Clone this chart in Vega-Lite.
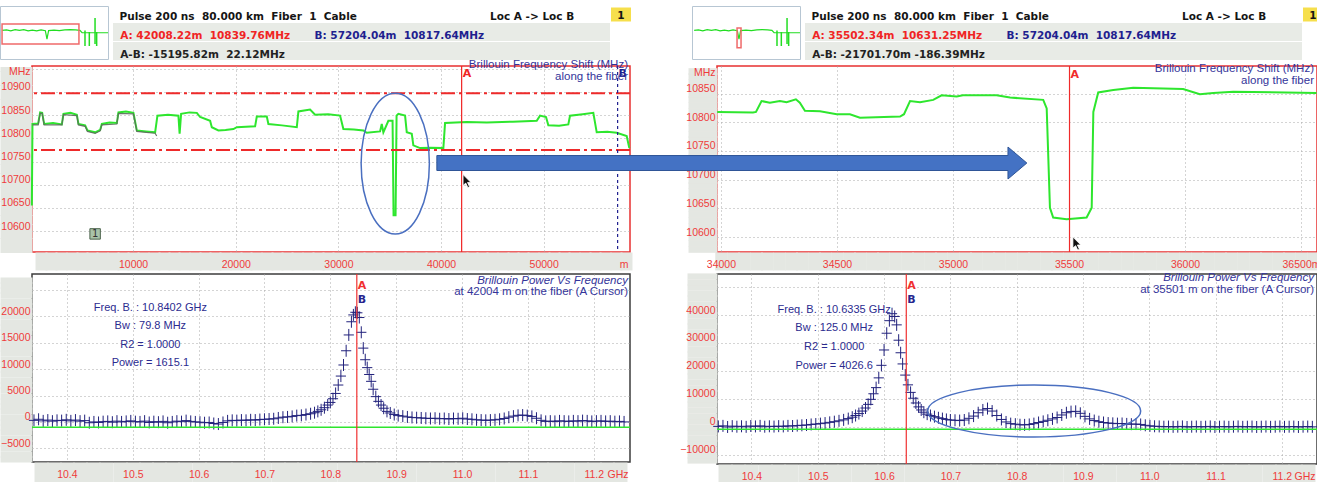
{
"$schema": "https://vega.github.io/schema/vega-lite/v6.json",
"background": "white",
"padding": {"left": -4, "top": 5, "right": 0, "bottom": 0},
"config": {"view": {"stroke": null}, "font": "Liberation Sans"},
"datasets": {
"shiftL": [
{"dist":136,"mhz":10655},{"dist":195,"mhz":10831},{"dist":750,"mhz":10832},{"dist":945,"mhz":10856},{"dist":1140,"mhz":10855},{"dist":1334,"mhz":10831},{"dist":2200,"mhz":10833},{"dist":3058,"mhz":10830},{"dist":3214,"mhz":10853},{"dist":3900,"mhz":10855},{"dist":4519,"mhz":10851},{"dist":4675,"mhz":10831},{"dist":5328,"mhz":10828},{"dist":5552,"mhz":10817},{"dist":6302,"mhz":10813},{"dist":6789,"mhz":10818},{"dist":6954,"mhz":10831},{"dist":7700,"mhz":10834},{"dist":8415,"mhz":10833},{"dist":8571,"mhz":10856},{"dist":9300,"mhz":10858},{"dist":10032,"mhz":10855},{"dist":10363,"mhz":10817},{"dist":11269,"mhz":10815},{"dist":12146,"mhz":10813},{"dist":12370,"mhz":10849},{"dist":13400,"mhz":10851},{"dist":14415,"mhz":10849},{"dist":14532,"mhz":10810},{"dist":14678,"mhz":10853},{"dist":15500,"mhz":10856},{"dist":16207,"mhz":10855},{"dist":16529,"mhz":10846},{"dist":17503,"mhz":10838},{"dist":17668,"mhz":10824},{"dist":18311,"mhz":10817},{"dist":19000,"mhz":10818},{"dist":19772,"mhz":10820},{"dist":20103,"mhz":10824},{"dist":21000,"mhz":10825},{"dist":21886,"mhz":10826},{"dist":22051,"mhz":10847},{"dist":23025,"mhz":10847},{"dist":23181,"mhz":10831},{"dist":24500,"mhz":10828},{"dist":25947,"mhz":10824},{"dist":26103,"mhz":10858},{"dist":27243,"mhz":10862},{"dist":27730,"mhz":10851},{"dist":29000,"mhz":10852},{"dist":30165,"mhz":10849},{"dist":30486,"mhz":10820},{"dist":31500,"mhz":10819},{"dist":32434,"mhz":10817},{"dist":32765,"mhz":10812},{"dist":34060,"mhz":10815},{"dist":34226,"mhz":10831},{"dist":34382,"mhz":10813},{"dist":34869,"mhz":10838},{"dist":35278,"mhz":10838},{"dist":35375,"mhz":10634},{"dist":35570,"mhz":10634},{"dist":35668,"mhz":10849},{"dist":35843,"mhz":10853},{"dist":36496,"mhz":10849},{"dist":36661,"mhz":10813},{"dist":37148,"mhz":10810},{"dist":37304,"mhz":10785},{"dist":37957,"mhz":10779},{"dist":39000,"mhz":10780},{"dist":40226,"mhz":10779},{"dist":40392,"mhz":10833},{"dist":42500,"mhz":10835},{"dist":44453,"mhz":10834},{"dist":47000,"mhz":10836},{"dist":49323,"mhz":10838},{"dist":49645,"mhz":10849},{"dist":50229,"mhz":10846},{"dist":50453,"mhz":10828},{"dist":51500,"mhz":10827},{"dist":52401,"mhz":10830},{"dist":52567,"mhz":10849},{"dist":53800,"mhz":10852},{"dist":54836,"mhz":10855},{"dist":55168,"mhz":10813},{"dist":56200,"mhz":10814},{"dist":57115,"mhz":10812},{"dist":58089,"mhz":10805},{"dist":58342,"mhz":10779}
],
"shiftLref": [
{"dist":195,"mhz":10829},{"dist":750,"mhz":10829},{"dist":945,"mhz":10854},{"dist":1140,"mhz":10854},{"dist":1334,"mhz":10829},{"dist":3058,"mhz":10829},{"dist":3214,"mhz":10851},{"dist":4519,"mhz":10849},{"dist":4675,"mhz":10829},{"dist":5328,"mhz":10826},{"dist":5552,"mhz":10815},{"dist":6302,"mhz":10811},{"dist":6789,"mhz":10816},{"dist":6954,"mhz":10829},{"dist":8415,"mhz":10831},{"dist":8571,"mhz":10854},{"dist":10032,"mhz":10853},{"dist":10363,"mhz":10815},{"dist":11269,"mhz":10813},{"dist":12146,"mhz":10811},{"dist":12300,"mhz":10805}
],
"shiftR": [
{"dist":33984,"mhz":10818},{"dist":34138,"mhz":10817},{"dist":34151,"mhz":10818},{"dist":34175,"mhz":10837},{"dist":34211,"mhz":10834},{"dist":34254,"mhz":10837},{"dist":34283,"mhz":10835},{"dist":34323,"mhz":10840},{"dist":34340,"mhz":10834},{"dist":34362,"mhz":10820},{"dist":34427,"mhz":10819},{"dist":34499,"mhz":10814},{"dist":34556,"mhz":10814},{"dist":34599,"mhz":10808},{"dist":34772,"mhz":10810},{"dist":34789,"mhz":10814},{"dist":34815,"mhz":10837},{"dist":34858,"mhz":10835},{"dist":34915,"mhz":10839},{"dist":34951,"mhz":10847},{"dist":35016,"mhz":10845},{"dist":35043,"mhz":10847},{"dist":35188,"mhz":10847},{"dist":35246,"mhz":10843},{"dist":35389,"mhz":10839},{"dist":35404,"mhz":10824},{"dist":35418,"mhz":10651},{"dist":35432,"mhz":10634},{"dist":35490,"mhz":10631},{"dist":35576,"mhz":10634},{"dist":35598,"mhz":10651},{"dist":35605,"mhz":10818},{"dist":35626,"mhz":10852},{"dist":35691,"mhz":10856},{"dist":35777,"mhz":10860},{"dist":35992,"mhz":10858},{"dist":36064,"mhz":10849},{"dist":36122,"mhz":10851},{"dist":36208,"mhz":10853},{"dist":36567,"mhz":10851}
],
"limitsL": [{"limit":"high","mhz":10897},{"limit":"low","mhz":10775}],
"cursorsL": [{"cursor":"A","dist":42008.22},{"cursor":"B","dist":57204.04}],
"cursorR": [{"cursor":"A","dist":35502.34}],
"eventsL": [{"id":"1","dist":6300,"mhz":10594}],
"powL": [
{"f":10.350,"p":300},{"f":10.357,"p":500},{"f":10.364,"p":200},{"f":10.371,"p":350},{"f":10.378,"p":150},{"f":10.385,"p":300},{"f":10.392,"p":250},{"f":10.399,"p":400},{"f":10.406,"p":200},{"f":10.413,"p":350},{"f":10.420,"p":150},{"f":10.427,"p":250},{"f":10.434,"p":-150},{"f":10.441,"p":0},{"f":10.448,"p":-100},{"f":10.455,"p":50},{"f":10.462,"p":100},{"f":10.469,"p":-50},{"f":10.476,"p":150},{"f":10.483,"p":0},{"f":10.490,"p":100},{"f":10.497,"p":200},{"f":10.504,"p":50},{"f":10.511,"p":0},{"f":10.518,"p":150},{"f":10.525,"p":-100},{"f":10.532,"p":50},{"f":10.539,"p":-50},{"f":10.546,"p":100},{"f":10.553,"p":-150},{"f":10.560,"p":0},{"f":10.567,"p":150},{"f":10.574,"p":50},{"f":10.581,"p":250},{"f":10.588,"p":100},{"f":10.595,"p":0},{"f":10.602,"p":-50},{"f":10.609,"p":-150},{"f":10.616,"p":-100},{"f":10.623,"p":-300},{"f":10.630,"p":-400},{"f":10.637,"p":-100},{"f":10.644,"p":200},{"f":10.651,"p":300},{"f":10.658,"p":250},{"f":10.665,"p":350},{"f":10.672,"p":300},{"f":10.679,"p":400},{"f":10.686,"p":350},{"f":10.693,"p":450},{"f":10.700,"p":500},{"f":10.707,"p":550},{"f":10.714,"p":600},{"f":10.721,"p":750},{"f":10.728,"p":900},{"f":10.735,"p":950},{"f":10.742,"p":1050},{"f":10.749,"p":1200},{"f":10.756,"p":1250},{"f":10.763,"p":1400},{"f":10.770,"p":1550},{"f":10.776,"p":1750},{"f":10.781,"p":2000},{"f":10.786,"p":2300},{"f":10.791,"p":2700},{"f":10.796,"p":3200},{"f":10.800,"p":3700},{"f":10.804,"p":4400},{"f":10.808,"p":5400},{"f":10.812,"p":7000},{"f":10.816,"p":8700},{"f":10.820,"p":10800},{"f":10.824,"p":13500},{"f":10.828,"p":16500},{"f":10.832,"p":19000},{"f":10.835,"p":20300},{"f":10.838,"p":20800},{"f":10.841,"p":20700},{"f":10.844,"p":19800},{"f":10.847,"p":17000},{"f":10.850,"p":14000},{"f":10.853,"p":11800},{"f":10.856,"p":10300},{"f":10.859,"p":9000},{"f":10.862,"p":7700},{"f":10.865,"p":6200},{"f":10.869,"p":4800},{"f":10.873,"p":3900},{"f":10.877,"p":3200},{"f":10.881,"p":2600},{"f":10.886,"p":2000},{"f":10.891,"p":1700},{"f":10.897,"p":1400},{"f":10.903,"p":1200},{"f":10.910,"p":1100},{"f":10.917,"p":950},{"f":10.924,"p":850},{"f":10.931,"p":800},{"f":10.938,"p":750},{"f":10.945,"p":700},{"f":10.952,"p":650},{"f":10.959,"p":700},{"f":10.966,"p":600},{"f":10.973,"p":650},{"f":10.980,"p":550},{"f":10.987,"p":650},{"f":10.994,"p":600},{"f":11.001,"p":700},{"f":11.008,"p":550},{"f":11.015,"p":500},{"f":11.022,"p":400},{"f":11.029,"p":350},{"f":11.036,"p":300},{"f":11.043,"p":350},{"f":11.050,"p":400},{"f":11.057,"p":500},{"f":11.064,"p":650},{"f":11.071,"p":900},{"f":11.078,"p":1100},{"f":11.085,"p":1250},{"f":11.092,"p":1300},{"f":11.099,"p":1200},{"f":11.106,"p":1050},{"f":11.113,"p":700},{"f":11.120,"p":300},{"f":11.127,"p":100},{"f":11.134,"p":150},{"f":11.141,"p":100},{"f":11.148,"p":200},{"f":11.155,"p":150},{"f":11.162,"p":100},{"f":11.169,"p":200},{"f":11.176,"p":150},{"f":11.183,"p":250},{"f":11.190,"p":200},{"f":11.197,"p":100},{"f":11.204,"p":150},{"f":11.211,"p":200},{"f":11.218,"p":100},{"f":11.225,"p":150},{"f":11.232,"p":50},{"f":11.239,"p":100},{"f":11.246,"p":0}
],
"powR": [
{"f":10.350,"p":100},{"f":10.357,"p":300},{"f":10.364,"p":-100},{"f":10.371,"p":200},{"f":10.378,"p":0},{"f":10.385,"p":150},{"f":10.392,"p":-50},{"f":10.399,"p":250},{"f":10.406,"p":100},{"f":10.413,"p":300},{"f":10.420,"p":0},{"f":10.427,"p":150},{"f":10.434,"p":50},{"f":10.441,"p":200},{"f":10.448,"p":100},{"f":10.455,"p":300},{"f":10.462,"p":250},{"f":10.469,"p":400},{"f":10.476,"p":500},{"f":10.483,"p":600},{"f":10.490,"p":800},{"f":10.497,"p":950},{"f":10.504,"p":1100},{"f":10.511,"p":1300},{"f":10.518,"p":1550},{"f":10.525,"p":1800},{"f":10.532,"p":2100},{"f":10.539,"p":2450},{"f":10.546,"p":2900},{"f":10.552,"p":3400},{"f":10.557,"p":4000},{"f":10.562,"p":4700},{"f":10.567,"p":5600},{"f":10.572,"p":6700},{"f":10.576,"p":8000},{"f":10.580,"p":9800},{"f":10.584,"p":11800},{"f":10.588,"p":14000},{"f":10.592,"p":17500},{"f":10.596,"p":22000},{"f":10.600,"p":27500},{"f":10.604,"p":33500},{"f":10.608,"p":38000},{"f":10.612,"p":40500},{"f":10.616,"p":39500},{"f":10.619,"p":36500},{"f":10.622,"p":31000},{"f":10.625,"p":26500},{"f":10.628,"p":22500},{"f":10.632,"p":18500},{"f":10.636,"p":15000},{"f":10.640,"p":12300},{"f":10.644,"p":10200},{"f":10.648,"p":8500},{"f":10.652,"p":7100},{"f":10.656,"p":6000},{"f":10.660,"p":5200},{"f":10.665,"p":4500},{"f":10.670,"p":4000},{"f":10.676,"p":3600},{"f":10.682,"p":3200},{"f":10.688,"p":2900},{"f":10.694,"p":2600},{"f":10.700,"p":2400},{"f":10.707,"p":2300},{"f":10.714,"p":2200},{"f":10.721,"p":2400},{"f":10.728,"p":3000},{"f":10.735,"p":3800},{"f":10.742,"p":5000},{"f":10.749,"p":6000},{"f":10.756,"p":6500},{"f":10.763,"p":5600},{"f":10.770,"p":4000},{"f":10.777,"p":2600},{"f":10.784,"p":1700},{"f":10.791,"p":1100},{"f":10.798,"p":900},{"f":10.805,"p":700},{"f":10.812,"p":650},{"f":10.819,"p":800},{"f":10.826,"p":1100},{"f":10.833,"p":1500},{"f":10.840,"p":1900},{"f":10.847,"p":2300},{"f":10.854,"p":2800},{"f":10.861,"p":3300},{"f":10.868,"p":4200},{"f":10.875,"p":5000},{"f":10.882,"p":5400},{"f":10.889,"p":5500},{"f":10.896,"p":4800},{"f":10.903,"p":3700},{"f":10.910,"p":2800},{"f":10.917,"p":2200},{"f":10.924,"p":1800},{"f":10.931,"p":1500},{"f":10.938,"p":1300},{"f":10.945,"p":1200},{"f":10.952,"p":1100},{"f":10.959,"p":1150},{"f":10.966,"p":1000},{"f":10.973,"p":900},{"f":10.980,"p":950},{"f":10.987,"p":800},{"f":10.994,"p":500},{"f":11.001,"p":300},{"f":11.008,"p":150},{"f":11.015,"p":100},{"f":11.022,"p":0},{"f":11.029,"p":50},{"f":11.036,"p":-50},{"f":11.043,"p":0},{"f":11.050,"p":100},{"f":11.057,"p":-100},{"f":11.064,"p":0},{"f":11.071,"p":50},{"f":11.078,"p":-50},{"f":11.085,"p":0},{"f":11.092,"p":100},{"f":11.099,"p":-100},{"f":11.106,"p":0},{"f":11.113,"p":50},{"f":11.120,"p":-50},{"f":11.127,"p":0},{"f":11.134,"p":100},{"f":11.141,"p":-50},{"f":11.148,"p":0},{"f":11.155,"p":50},{"f":11.162,"p":-100},{"f":11.169,"p":0},{"f":11.176,"p":50},{"f":11.183,"p":-50},{"f":11.190,"p":0},{"f":11.197,"p":100},{"f":11.204,"p":-50},{"f":11.211,"p":0},{"f":11.218,"p":50},{"f":11.225,"p":-100},{"f":11.232,"p":0},{"f":11.239,"p":50},{"f":11.246,"p":-50}
],
"powCursorL": [{"cursor":"A","f":10.8402}],
"powCursorR": [{"cursor":"A","f":10.6335}],
"fitL": [{"txt":"Freq. B. : 10.8402 GHz\nBw : 79.8 MHz\nR2 = 1.0000\nPower = 1615.1"}],
"fitR": [{"txt":"Freq. B. : 10.6335 GHz\nBw : 125.0 MHz\nR2 = 1.0000\nPower = 4026.6"}],
"thumbTrace": [
{"pos":2,"v":0.8},{"pos":6,"v":1.0},{"pos":10,"v":0.6},{"pos":14,"v":1.1},{"pos":18,"v":0.8},{"pos":22,"v":1.1},{"pos":26,"v":0.6},{"pos":30,"v":0.9},{"pos":34,"v":0.6},{"pos":38,"v":1.0},{"pos":42,"v":0.7},{"pos":43.5,"v":-2.5},{"pos":45,"v":0.7},{"pos":50,"v":0.9},{"pos":55,"v":0.7},{"pos":60,"v":1.0},{"pos":65,"v":1.1},{"pos":70,"v":1.0},{"pos":74,"v":0.8},{"pos":76,"v":-0.1},{"pos":100,"v":-0.1}
],
"thumbSpikes": [
{"pos":78.7,"top":0.8,"bottom":-5.1},{"pos":82.7,"top":0.2,"bottom":-5.1},{"pos":88,"top":5.5,"bottom":-4.3},{"pos":89.5,"top":0.2,"bottom":-5.1}
],
"thumbWinL": [{"from":1.9,"to":73.1,"top":3.2,"bottom":-4.3}],
"thumbWinR": [{"from":41.7,"to":45.4,"top":1.7,"bottom":-5.8}],
"hdr1": [{"col":1,"txt":"Pulse 200 ns\u00a0\u00a080.000 km\u00a0\u00a0Fiber\u00a0\u00a01\u00a0\u00a0Cable"},{"col":58,"txt":"Loc A -> Loc B"}],
"hdrBox": [{"col":78.15,"txt":"1"}],
"hdr2L": [{"col":1.1,"who":"A","txt":"A: 42008.22m\u00a0\u00a010839.76MHz"},{"col":31,"who":"B","txt":"B: 57204.04m\u00a0\u00a010817.64MHz"}],
"hdr3L": [{"col":1.1,"who":"A-B","txt":"A-B: -15195.82m\u00a0\u00a022.12MHz"}],
"hdr2R": [{"col":1.1,"who":"A","txt":"A: 35502.34m\u00a0\u00a010631.25MHz"},{"col":31,"who":"B","txt":"B: 57204.04m\u00a0\u00a010817.64MHz"}],
"hdr3R": [{"col":1.1,"who":"A-B","txt":"A-B: -21701.70m -186.39MHz"}]
},
"spacing": -3,
"vconcat": [
{
"hconcat": [
{
"hconcat": [
{
"width": 108, "height": 53,
"view": {"fill": "white", "stroke": "#b7c6d3", "strokeWidth": 1},
"layer": [
{"data": {"name": "thumbTrace"}, "mark": {"type": "line", "color": "#22dd22", "strokeWidth": 1.2},
 "encoding": {"x": {"field": "pos", "type": "quantitative", "scale": {"domain": [0, 100], "nice": false, "zero": false}, "axis": null},
 "y": {"field": "v", "type": "quantitative", "scale": {"domain": [-10, 10], "nice": false, "zero": false}, "axis": null}}},
{"data": {"name": "thumbSpikes"}, "mark": {"type": "rule", "color": "#22dd22", "strokeWidth": 1.5},
 "encoding": {"x": {"field": "pos", "type": "quantitative", "scale": {"domain": [0, 100], "nice": false, "zero": false}, "axis": null},
 "y": {"field": "top", "type": "quantitative", "scale": {"domain": [-10, 10], "nice": false, "zero": false}, "axis": null}, "y2": {"field": "bottom"}}},
{"data": {"name": "thumbWinL"}, "mark": {"type": "rect", "filled": false, "color": "#ef6a6a", "strokeWidth": 1.5},
 "encoding": {"x": {"field": "from", "type": "quantitative", "scale": {"domain": [0, 100], "nice": false, "zero": false}, "axis": null}, "x2": {"field": "to"},
 "y": {"field": "top", "type": "quantitative", "scale": {"domain": [-10, 10], "nice": false, "zero": false}, "axis": null}, "y2": {"field": "bottom"}}}
]
},
{
"vconcat": [
{"width": 520, "height": 17, "view": {"fill": "white"},
 "layer": [
 {"data": {"name": "hdr1"}, "mark": {"type": "text", "align": "left", "baseline": "middle", "dy": 2, "font": "DejaVu Sans", "fontWeight": "bold", "fontSize": 10.5, "color": "#151515"},
  "encoding": {"x": {"field": "col", "type": "quantitative", "scale": {"domain": [0, 80], "nice": false, "zero": false}, "axis": null}, "text": {"field": "txt"}}},
 {"data": {"name": "hdrBox"}, "mark": {"type": "point", "shape": "M -1 -0.7 L 1 -0.7 L 1 0.7 L -1 0.7 Z", "size": 400, "filled": true, "color": "#f6df4c", "opacity": 1},
  "encoding": {"x": {"field": "col", "type": "quantitative", "scale": {"domain": [0, 80], "nice": false, "zero": false}, "axis": null}}},
 {"data": {"name": "hdrBox"}, "mark": {"type": "text", "align": "center", "baseline": "middle", "dy": 1, "font": "DejaVu Sans", "fontWeight": "bold", "fontSize": 10.5, "color": "#151515"},
  "encoding": {"x": {"field": "col", "type": "quantitative", "scale": {"domain": [0, 80], "nice": false, "zero": false}, "axis": null}, "text": {"field": "txt"}}}
 ]},
{"width": 497, "height": 18, "view": {"fill": "#e8ebe6"},
 "data": {"name": "hdr2L"}, "mark": {"type": "text", "align": "left", "baseline": "middle", "dy": 4, "font": "DejaVu Sans", "fontWeight": "bold", "fontSize": 10.5},
 "encoding": {"x": {"field": "col", "type": "quantitative", "scale": {"domain": [0, 76.46], "nice": false, "zero": false}, "axis": null}, "text": {"field": "txt"},
  "color": {"field": "who", "type": "nominal", "scale": {"domain": ["A", "B", "A-B"], "range": ["#f02424", "#1f1f8f", "#222222"]}, "legend": null}}},
{"width": 497, "height": 18, "view": {"fill": "#e8ebe6"},
 "data": {"name": "hdr3L"}, "mark": {"type": "text", "align": "left", "baseline": "middle", "dy": 4, "font": "DejaVu Sans", "fontWeight": "bold", "fontSize": 10.5},
 "encoding": {"x": {"field": "col", "type": "quantitative", "scale": {"domain": [0, 76.46], "nice": false, "zero": false}, "axis": null}, "text": {"field": "txt"},
  "color": {"field": "who", "type": "nominal", "scale": {"domain": ["A", "B", "A-B"], "range": ["#f02424", "#1f1f8f", "#222222"]}, "legend": null}}}
],
"spacing": 0
}
],
"spacing": 2
},
{
"hconcat": [
{
"width": 108, "height": 53,
"view": {"fill": "white", "stroke": "#b7c6d3", "strokeWidth": 1},
"layer": [
{"data": {"name": "thumbTrace"}, "mark": {"type": "line", "color": "#22dd22", "strokeWidth": 1.2},
 "encoding": {"x": {"field": "pos", "type": "quantitative", "scale": {"domain": [0, 100], "nice": false, "zero": false}, "axis": null},
 "y": {"field": "v", "type": "quantitative", "scale": {"domain": [-10, 10], "nice": false, "zero": false}, "axis": null}}},
{"data": {"name": "thumbSpikes"}, "mark": {"type": "rule", "color": "#22dd22", "strokeWidth": 1.5},
 "encoding": {"x": {"field": "pos", "type": "quantitative", "scale": {"domain": [0, 100], "nice": false, "zero": false}, "axis": null},
 "y": {"field": "top", "type": "quantitative", "scale": {"domain": [-10, 10], "nice": false, "zero": false}, "axis": null}, "y2": {"field": "bottom"}}},
{"data": {"name": "thumbWinR"}, "mark": {"type": "rect", "filled": false, "color": "#ef6a6a", "strokeWidth": 1.5},
 "encoding": {"x": {"field": "from", "type": "quantitative", "scale": {"domain": [0, 100], "nice": false, "zero": false}, "axis": null}, "x2": {"field": "to"},
 "y": {"field": "top", "type": "quantitative", "scale": {"domain": [-10, 10], "nice": false, "zero": false}, "axis": null}, "y2": {"field": "bottom"}}}
]
},
{
"vconcat": [
{"width": 520, "height": 17, "view": {"fill": "white"},
 "layer": [
 {"data": {"name": "hdr1"}, "mark": {"type": "text", "align": "left", "baseline": "middle", "dy": 2, "font": "DejaVu Sans", "fontWeight": "bold", "fontSize": 10.5, "color": "#151515"},
  "encoding": {"x": {"field": "col", "type": "quantitative", "scale": {"domain": [0, 80], "nice": false, "zero": false}, "axis": null}, "text": {"field": "txt"}}},
 {"data": {"name": "hdrBox"}, "mark": {"type": "point", "shape": "M -1 -0.7 L 1 -0.7 L 1 0.7 L -1 0.7 Z", "size": 400, "filled": true, "color": "#f6df4c", "opacity": 1},
  "encoding": {"x": {"field": "col", "type": "quantitative", "scale": {"domain": [0, 80], "nice": false, "zero": false}, "axis": null}}},
 {"data": {"name": "hdrBox"}, "mark": {"type": "text", "align": "center", "baseline": "middle", "dy": 1, "font": "DejaVu Sans", "fontWeight": "bold", "fontSize": 10.5, "color": "#151515"},
  "encoding": {"x": {"field": "col", "type": "quantitative", "scale": {"domain": [0, 80], "nice": false, "zero": false}, "axis": null}, "text": {"field": "txt"}}}
 ]},
{"width": 497, "height": 18, "view": {"fill": "#e8ebe6"},
 "data": {"name": "hdr2R"}, "mark": {"type": "text", "align": "left", "baseline": "middle", "dy": 4, "font": "DejaVu Sans", "fontWeight": "bold", "fontSize": 10.5},
 "encoding": {"x": {"field": "col", "type": "quantitative", "scale": {"domain": [0, 76.46], "nice": false, "zero": false}, "axis": null}, "text": {"field": "txt"},
  "color": {"field": "who", "type": "nominal", "scale": {"domain": ["A", "B", "A-B"], "range": ["#f02424", "#1f1f8f", "#222222"]}, "legend": null}}},
{"width": 497, "height": 18, "view": {"fill": "#e8ebe6"},
 "data": {"name": "hdr3R"}, "mark": {"type": "text", "align": "left", "baseline": "middle", "dy": 4, "font": "DejaVu Sans", "fontWeight": "bold", "fontSize": 10.5},
 "encoding": {"x": {"field": "col", "type": "quantitative", "scale": {"domain": [0, 76.46], "nice": false, "zero": false}, "axis": null}, "text": {"field": "txt"},
  "color": {"field": "who", "type": "nominal", "scale": {"domain": ["A", "B", "A-B"], "range": ["#f02424", "#1f1f8f", "#222222"]}, "legend": null}}}
],
"spacing": 0
}
],
"spacing": 2
}
],
"spacing": 58
},
{
"columns": 4,
"bounds": "flush",
"spacing": {"row": 22, "column": 0},
"concat": [
{"width": 32, "height": 1, "data": {"values": [{"k": 1}]}, "mark": {"type": "text", "text": ""}},
{
"width": 598, "height": 186,
"view": {"stroke": "#e83030", "strokeWidth": 1.5},
"title": {"text": ["Brillouin Frequency Shift (MHz)", "along the fiber"], "anchor": "end", "align": "right", "frame": "group", "offset": -24, "dx": -2, "fontSize": 11.5, "lineHeight": 12, "font": "Liberation Sans", "fontWeight": "normal", "color": "#34349a"},
"layer": [
{"data": {"name": "shiftL"}, "mark": {"type": "line", "color": "#2ee62e", "strokeWidth": 2},
 "encoding": {
 "x": {"field": "dist", "type": "quantitative", "scale": {"domain": [150, 58410], "nice": false, "zero": false},
  "axis": {"values": [1000,2000,3000,4000,5000,6000,7000,8000,9000,10000,11000,12000,13000,14000,15000,16000,17000,18000,19000,20000,21000,22000,23000,24000,25000,26000,27000,28000,29000,30000,31000,32000,33000,34000,35000,36000,37000,38000,39000,40000,41000,42000,43000,44000,45000,46000,47000,48000,49000,50000,51000,52000,53000,54000,55000,56000,57000,58000],
   "tickCount": 1000, "format": "d", "labelExpr": "datum.value % 10000 == 0 ? datum.label : ''",
   "grid": true, "gridColor": "#a9a9a9", "gridDash": [1, 3], "gridOpacity": {"condition": {"test": "datum.value % 10000 == 0", "value": 1}, "value": 0},
   "domain": false, "ticks": true, "tickSize": 18, "tickWidth": 12, "tickColor": "#e4e7e2", "tickOpacity": 1,
   "labelPadding": -11, "labelColor": "#ef3b3b", "labelFont": "Liberation Sans", "labelFontSize": 10.5, "labelFlush": false, "labelOverlap": false,
   "title": "m", "titleX": 596, "titleY": 7, "titleAlign": "right", "titleBaseline": "top", "titleColor": "#ef3b3b", "titleFont": "Liberation Sans", "titleFontSize": 10.5, "titleFontWeight": "normal"}},
 "y": {"field": "mhz", "type": "quantitative", "scale": {"domain": [10555, 10956], "nice": false, "zero": false},
  "axis": {"values": [10560,10570,10580,10590,10600,10610,10620,10630,10640,10650,10660,10670,10680,10690,10700,10710,10720,10730,10740,10750,10760,10770,10780,10790,10800,10810,10820,10830,10840,10850,10860,10870,10880,10890,10900,10910,10920,10930,10940,10950],
   "tickCount": 1000, "format": "d", "labelExpr": "datum.value % 50 == 0 && datum.value <= 10900 ? datum.label : ''",
   "grid": true, "gridColor": "#a9a9a9", "gridDash": [1, 3], "gridOpacity": {"condition": {"test": "datum.value % 50 == 0", "value": 1}, "value": 0},
   "domain": false, "ticks": true, "tickSize": 32, "tickWidth": 5.2, "tickColor": "#e4e7e2", "tickOpacity": 1,
   "labelPadding": -30, "labelColor": "#ef3b3b", "labelFont": "Liberation Sans", "labelFontSize": 10.5, "labelBaseline": "bottom", "labelFlush": false, "labelOverlap": false,
   "title": "MHz", "titleAngle": 0, "titleX": -2, "titleY": 5, "titleAlign": "right", "titleBaseline": "middle", "titleColor": "#ef3b3b", "titleFont": "Liberation Sans", "titleFontSize": 10.5, "titleFontWeight": "normal"}}}},
{"data": {"name": "shiftLref"}, "mark": {"type": "line", "color": "#5b6a5b", "strokeWidth": 1.2, "opacity": 0.9},
 "encoding": {"x": {"field": "dist", "type": "quantitative", "scale": {"domain": [150, 58410], "nice": false, "zero": false}},
 "y": {"field": "mhz", "type": "quantitative", "scale": {"domain": [10555, 10956], "nice": false, "zero": false}}}},
{"data": {"name": "limitsL"}, "mark": {"type": "rule", "color": "#ee2a2a", "strokeWidth": 2, "strokeDash": [14, 4, 3, 4]},
 "encoding": {"y": {"field": "mhz", "type": "quantitative", "scale": {"domain": [10555, 10956], "nice": false, "zero": false}}}},
{"data": {"name": "cursorsL"}, "mark": {"type": "rule", "strokeWidth": 1.2},
 "encoding": {"x": {"field": "dist", "type": "quantitative", "scale": {"domain": [150, 58410], "nice": false, "zero": false}},
 "color": {"field": "cursor", "type": "nominal", "scale": {"domain": ["A", "B"], "range": ["#f02a2a", "#2d2d9a"]}, "legend": null},
 "strokeDash": {"field": "cursor", "type": "nominal", "scale": {"domain": ["A", "B"], "range": [[1, 0], [3, 3]]}, "legend": null}}},
{"data": {"name": "cursorsL"}, "mark": {"type": "text", "align": "left", "baseline": "middle", "dx": 1, "font": "DejaVu Sans", "fontWeight": "bold", "fontSize": 11},
 "encoding": {"x": {"field": "dist", "type": "quantitative", "scale": {"domain": [150, 58410], "nice": false, "zero": false}},
 "y": {"datum": 10938, "type": "quantitative", "scale": {"domain": [10555, 10956], "nice": false, "zero": false}},
 "text": {"field": "cursor"},
 "color": {"field": "cursor", "type": "nominal", "scale": {"domain": ["A", "B"], "range": ["#f02a2a", "#2d2d9a"]}, "legend": null}}},
{"data": {"name": "eventsL"}, "mark": {"type": "point", "shape": "square", "size": 110, "filled": true, "color": "#a9c3a9", "stroke": "#4f664f", "strokeWidth": 1, "opacity": 1},
 "encoding": {"x": {"field": "dist", "type": "quantitative", "scale": {"domain": [150, 58410], "nice": false, "zero": false}},
 "y": {"field": "mhz", "type": "quantitative", "scale": {"domain": [10555, 10956], "nice": false, "zero": false}}}},
{"data": {"name": "eventsL"}, "mark": {"type": "text", "align": "center", "baseline": "middle", "fontSize": 10, "font": "DejaVu Sans", "color": "#333333"},
 "encoding": {"x": {"field": "dist", "type": "quantitative", "scale": {"domain": [150, 58410], "nice": false, "zero": false}},
 "y": {"field": "mhz", "type": "quantitative", "scale": {"domain": [10555, 10956], "nice": false, "zero": false}}, "text": {"field": "id"}}},
{"data": {"values": [{"note": "anomaly"}]}, "mark": {"type": "point", "shape": "M 0.485 0 C 0.485 0.552 0.268 1 0 1 C -0.268 1 -0.485 0.552 -0.485 0 C -0.485 -0.552 -0.268 -1 0 -1 C 0.268 -1 0.485 -0.552 0.485 0 Z", "size": 19800, "filled": false, "color": "#4a6fc0", "strokeWidth": 1.5, "opacity": 1},
 "encoding": {"x": {"datum": 35540, "type": "quantitative", "scale": {"domain": [150, 58410], "nice": false, "zero": false}},
 "y": {"datum": 10745.6, "type": "quantitative", "scale": {"domain": [10555, 10956], "nice": false, "zero": false}}}},
{"data": {"values": [{"note": "pointer"}]}, "mark": {"type": "point", "shape": "M 0 0 L 0 1.6 L 0.4 1.25 L 0.7 1.9 L 0.95 1.78 L 0.65 1.15 L 1.15 1.15 Z", "size": 188, "filled": true, "color": "#111111", "stroke": "#ffffff", "strokeWidth": 0.8, "opacity": 1},
 "encoding": {"x": {"datum": 42145, "type": "quantitative", "scale": {"domain": [150, 58410], "nice": false, "zero": false}},
 "y": {"datum": 10722, "type": "quantitative", "scale": {"domain": [10555, 10956], "nice": false, "zero": false}}}}
]
},
{"width": 87, "height": 1, "data": {"values": [{"k": 1}]}, "mark": {"type": "text", "text": ""}},
{
"width": 600, "height": 186,
"view": {"stroke": "#e83030", "strokeWidth": 1.5},
"title": {"text": ["Brillouin Frequency Shift (MHz)", "along the fiber"], "anchor": "end", "align": "right", "frame": "group", "offset": -26, "dx": -3, "fontSize": 11.5, "lineHeight": 12, "font": "Liberation Sans", "fontWeight": "normal", "color": "#34349a"},
"layer": [
{"data": {"name": "shiftR"}, "mark": {"type": "line", "color": "#2ee62e", "strokeWidth": 2},
 "encoding": {
 "x": {"field": "dist", "type": "quantitative", "scale": {"domain": [33983, 36569], "nice": false, "zero": false},
  "axis": {"values": [34000,34050,34100,34150,34200,34250,34300,34350,34400,34450,34500,34550,34600,34650,34700,34750,34800,34850,34900,34950,35000,35050,35100,35150,35200,35250,35300,35350,35400,35450,35500,35550,35600,35650,35700,35750,35800,35850,35900,35950,36000,36050,36100,36150,36200,36250,36300,36350,36400,36450,36500,36550],
   "tickCount": 1000, "format": "d", "labelExpr": "datum.value % 500 == 0 ? (datum.value == 36500 ? '36500m' : datum.label) : ''",
   "grid": true, "gridColor": "#a9a9a9", "gridDash": [1, 3], "gridOpacity": {"condition": {"test": "datum.value % 500 == 0", "value": 1}, "value": 0},
   "domain": false, "ticks": true, "tickSize": 18, "tickWidth": 12.5, "tickColor": "#e4e7e2", "tickOpacity": 1,
   "labelPadding": -11, "labelColor": "#ef3b3b", "labelFont": "Liberation Sans", "labelFontSize": 10.5, "labelFlush": false, "labelOverlap": false, "title": null}},
 "y": {"field": "mhz", "type": "quantitative", "scale": {"domain": [10574, 10898], "nice": false, "zero": false},
  "axis": {"values": [10580,10590,10600,10610,10620,10630,10640,10650,10660,10670,10680,10690,10700,10710,10720,10730,10740,10750,10760,10770,10780,10790,10800,10810,10820,10830,10840,10850,10860,10870,10880,10890],
   "tickCount": 1000, "format": "d", "labelExpr": "datum.value % 50 == 0 ? datum.label : ''",
   "grid": true, "gridColor": "#a9a9a9", "gridDash": [1, 3], "gridOpacity": {"condition": {"test": "datum.value % 50 == 0", "value": 1}, "value": 0},
   "domain": false, "ticks": true, "tickSize": 29, "tickWidth": 6.6, "tickColor": "#e4e7e2", "tickOpacity": 1,
   "labelPadding": -27, "labelColor": "#ef3b3b", "labelFont": "Liberation Sans", "labelFontSize": 10.5, "labelBaseline": "bottom", "labelFlush": false, "labelOverlap": false,
   "title": "MHz", "titleAngle": 0, "titleX": -2, "titleY": 6, "titleAlign": "right", "titleBaseline": "middle", "titleColor": "#ef3b3b", "titleFont": "Liberation Sans", "titleFontSize": 10.5, "titleFontWeight": "normal"}}}},
{"data": {"name": "cursorR"}, "mark": {"type": "rule", "strokeWidth": 1.2, "color": "#f02a2a"},
 "encoding": {"x": {"field": "dist", "type": "quantitative", "scale": {"domain": [33983, 36569], "nice": false, "zero": false}}}},
{"data": {"name": "cursorR"}, "mark": {"type": "text", "align": "left", "baseline": "middle", "dx": 1, "font": "DejaVu Sans", "fontWeight": "bold", "fontSize": 11, "color": "#f02a2a"},
 "encoding": {"x": {"field": "dist", "type": "quantitative", "scale": {"domain": [33983, 36569], "nice": false, "zero": false}},
 "y": {"datum": 10882, "type": "quantitative", "scale": {"domain": [10574, 10898], "nice": false, "zero": false}},
 "text": {"field": "cursor"}}},
{"data": {"values": [{"note": "pointer"}]}, "mark": {"type": "point", "shape": "M 0 0 L 0 1.6 L 0.4 1.25 L 0.7 1.9 L 0.95 1.78 L 0.65 1.15 L 1.15 1.15 Z", "size": 188, "filled": true, "color": "#111111", "stroke": "#ffffff", "strokeWidth": 0.8, "opacity": 1},
 "encoding": {"x": {"datum": 35517, "type": "quantitative", "scale": {"domain": [33983, 36569], "nice": false, "zero": false}},
 "y": {"datum": 10600, "type": "quantitative", "scale": {"domain": [10574, 10898], "nice": false, "zero": false}}}},
{"data": {"values": [{"note": "zoom arrow"}]}, "mark": {"type": "point", "shape": "M -1 -0.0254 L 0.936 -0.0254 L 0.936 -0.0542 L 1 0 L 0.936 0.0542 L 0.936 0.0254 L -1 0.0254 Z", "size": 348100, "filled": true, "color": "#4472c4", "stroke": "#2f5597", "strokeWidth": 1, "opacity": 1},
 "encoding": {"x": {"datum": 34047, "type": "quantitative", "scale": {"domain": [33983, 36569], "nice": false, "zero": false}},
 "y": {"datum": 10729, "type": "quantitative", "scale": {"domain": [10574, 10898], "nice": false, "zero": false}}}}
]
},
{"width": 32, "height": 1, "data": {"values": [{"k": 1}]}, "mark": {"type": "text", "text": ""}},
{
"width": 598, "height": 188,
"view": {"stroke": "#3c3c3c", "strokeWidth": 1.5},
"title": {"text": "Brillouin Power Vs Frequency", "subtitle": "at 42004 m on the fiber (A Cursor)", "anchor": "end", "align": "right", "frame": "group", "offset": -28, "dx": -2, "fontSize": 11.5, "font": "Liberation Sans", "fontStyle": "italic", "fontWeight": "normal", "color": "#34349a", "subtitleFont": "Liberation Sans", "subtitleFontSize": 11.5, "subtitleColor": "#34349a", "subtitlePadding": 0},
"layer": [
{"data": {"name": "powL"}, "mark": {"type": "point", "shape": "M -0.85 0 L 0.85 0 M 0 -1 L 0 1", "size": 144, "filled": false, "color": "#22227c", "strokeWidth": 1, "opacity": 1},
 "encoding": {
 "x": {"field": "f", "type": "quantitative", "scale": {"domain": [10.347, 11.255], "nice": false, "zero": false},
  "axis": {"values": [10.36,10.38,10.4,10.42,10.44,10.46,10.48,10.5,10.52,10.54,10.56,10.58,10.6,10.62,10.64,10.66,10.68,10.7,10.72,10.74,10.76,10.78,10.8,10.82,10.84,10.86,10.88,10.9,10.92,10.94,10.96,10.98,11.0,11.02,11.04,11.06,11.08,11.1,11.12,11.14,11.16,11.18,11.2,11.22,11.24],
   "tickCount": 1000, "format": ".1f", "labelExpr": "abs(datum.value * 10 - round(datum.value * 10)) < 0.001 ? format(datum.value, '.1f') : ''",
   "grid": true, "gridColor": "#a9a9a9", "gridDash": [1, 3], "gridOpacity": {"condition": {"test": "abs(datum.value * 10 - round(datum.value * 10)) < 0.001", "value": 1}, "value": 0},
   "domain": false, "ticks": true, "tickSize": 20, "tickWidth": 14, "tickColor": "#e4e7e2", "tickOpacity": 1,
   "labelPadding": -12.5, "labelColor": "#ef3b3b", "labelFont": "Liberation Sans", "labelFontSize": 10.5, "labelFlush": false, "labelOverlap": false,
   "title": "GHz", "titleX": 596, "titleY": 7.5, "titleAlign": "right", "titleBaseline": "top", "titleColor": "#ef3b3b", "titleFont": "Liberation Sans", "titleFontSize": 10.5, "titleFontWeight": "normal"}},
 "y": {"field": "p", "type": "quantitative", "scale": {"domain": [-7600, 28060], "nice": false, "zero": false},
  "axis": {"values": [-7000,-6000,-5000,-4000,-3000,-2000,-1000,0,1000,2000,3000,4000,5000,6000,7000,8000,9000,10000,11000,12000,13000,14000,15000,16000,17000,18000,19000,20000,21000,22000,23000,24000,25000,26000,27000],
   "tickCount": 1000, "format": "d", "labelExpr": "datum.value % 5000 == 0 && datum.value < 25000 ? datum.label : ''",
   "grid": true, "gridColor": "#a9a9a9", "gridDash": [1, 3], "gridOpacity": {"condition": {"test": "datum.value % 5000 == 0", "value": 1}, "value": 0},
   "domain": false, "ticks": true, "tickSize": 32, "tickWidth": 6, "tickColor": "#e4e7e2", "tickOpacity": 1,
   "labelPadding": -30, "labelColor": "#ef3b3b", "labelFont": "Liberation Sans", "labelFontSize": 10.5, "labelBaseline": "bottom", "labelFlush": false, "labelOverlap": false, "title": null}}}},
{"data": {"values": [{"level": "floor"}]}, "mark": {"type": "rule", "color": "#2ee62e", "strokeWidth": 1.5},
 "encoding": {"y": {"datum": -1000, "type": "quantitative", "scale": {"domain": [-7600, 28060], "nice": false, "zero": false}}}},
{"data": {"name": "powCursorL"}, "mark": {"type": "rule", "color": "#f03030", "strokeWidth": 1.2},
 "encoding": {"x": {"field": "f", "type": "quantitative", "scale": {"domain": [10.347, 11.255], "nice": false, "zero": false}}}},
{"data": {"name": "powCursorL"}, "mark": {"type": "text", "align": "left", "baseline": "middle", "dx": 1, "font": "DejaVu Sans", "fontWeight": "bold", "fontSize": 11, "color": "#f03030"},
 "encoding": {"x": {"field": "f", "type": "quantitative", "scale": {"domain": [10.347, 11.255], "nice": false, "zero": false}},
 "y": {"datum": 25800, "type": "quantitative", "scale": {"domain": [-7600, 28060], "nice": false, "zero": false}}, "text": {"value": "A"}}},
{"data": {"name": "powCursorL"}, "mark": {"type": "text", "align": "left", "baseline": "middle", "dx": 1, "font": "DejaVu Sans", "fontWeight": "bold", "fontSize": 11, "color": "#26268e"},
 "encoding": {"x": {"field": "f", "type": "quantitative", "scale": {"domain": [10.347, 11.255], "nice": false, "zero": false}},
 "y": {"datum": 23150, "type": "quantitative", "scale": {"domain": [-7600, 28060], "nice": false, "zero": false}}, "text": {"value": "B"}}},
{"data": {"name": "fitL"}, "mark": {"type": "text", "align": "center", "baseline": "top", "lineBreak": "\n", "lineHeight": 18.5, "font": "Liberation Sans", "fontSize": 11, "color": "#2b2b8f"},
 "encoding": {"x": {"datum": 10.5267, "type": "quantitative", "scale": {"domain": [10.347, 11.255], "nice": false, "zero": false}},
 "y": {"datum": 22780, "type": "quantitative", "scale": {"domain": [-7600, 28060], "nice": false, "zero": false}}, "text": {"field": "txt"}}}
]
},
{"width": 87, "height": 1, "data": {"values": [{"k": 1}]}, "mark": {"type": "text", "text": ""}},
{
"width": 600, "height": 190,
"view": {"stroke": "#3c3c3c", "strokeWidth": 1.5},
"title": {"text": "Brillouin Power Vs Frequency", "subtitle": "at 35501 m on the fiber (A Cursor)", "anchor": "end", "align": "right", "frame": "group", "offset": -29, "dx": -3, "fontSize": 11.5, "font": "Liberation Sans", "fontStyle": "italic", "fontWeight": "normal", "color": "#34349a", "subtitleFont": "Liberation Sans", "subtitleFontSize": 11.5, "subtitleColor": "#34349a", "subtitlePadding": 0},
"layer": [
{"data": {"name": "powR"}, "mark": {"type": "point", "shape": "M -0.85 0 L 0.85 0 M 0 -1 L 0 1", "size": 144, "filled": false, "color": "#22227c", "strokeWidth": 1, "opacity": 1},
 "encoding": {
 "x": {"field": "f", "type": "quantitative", "scale": {"domain": [10.348, 11.253], "nice": false, "zero": false},
  "axis": {"values": [10.36,10.38,10.4,10.42,10.44,10.46,10.48,10.5,10.52,10.54,10.56,10.58,10.6,10.62,10.64,10.66,10.68,10.7,10.72,10.74,10.76,10.78,10.8,10.82,10.84,10.86,10.88,10.9,10.92,10.94,10.96,10.98,11.0,11.02,11.04,11.06,11.08,11.1,11.12,11.14,11.16,11.18,11.2,11.22,11.24],
   "tickCount": 1000, "format": ".1f", "labelExpr": "abs(datum.value * 10 - round(datum.value * 10)) < 0.001 ? format(datum.value, '.1f') : ''",
   "grid": true, "gridColor": "#a9a9a9", "gridDash": [1, 3], "gridOpacity": {"condition": {"test": "abs(datum.value * 10 - round(datum.value * 10)) < 0.001", "value": 1}, "value": 0},
   "domain": false, "ticks": true, "tickSize": 20, "tickWidth": 14, "tickColor": "#e4e7e2", "tickOpacity": 1,
   "labelPadding": -12.5, "labelColor": "#ef3b3b", "labelFont": "Liberation Sans", "labelFontSize": 10.5, "labelFlush": false, "labelOverlap": false,
   "title": "GHz", "titleX": 598, "titleY": 7.5, "titleAlign": "right", "titleBaseline": "top", "titleColor": "#ef3b3b", "titleFont": "Liberation Sans", "titleFontSize": 10.5, "titleFontWeight": "normal"}},
 "y": {"field": "p", "type": "quantitative", "scale": {"domain": [-13370, 54730], "nice": false, "zero": false},
  "axis": {"values": [-12000,-10000,-8000,-6000,-4000,-2000,0,2000,4000,6000,8000,10000,12000,14000,16000,18000,20000,22000,24000,26000,28000,30000,32000,34000,36000,38000,40000,42000,44000,46000,48000,50000,52000,54000],
   "tickCount": 1000, "format": "d", "labelExpr": "datum.value % 10000 == 0 && datum.value < 50000 ? datum.label : ''",
   "grid": true, "gridColor": "#a9a9a9", "gridDash": [1, 3], "gridOpacity": {"condition": {"test": "datum.value % 10000 == 0", "value": 1}, "value": 0},
   "domain": false, "ticks": true, "tickSize": 30, "tickWidth": 6.2, "tickColor": "#e4e7e2", "tickOpacity": 1,
   "labelPadding": -28, "labelColor": "#ef3b3b", "labelFont": "Liberation Sans", "labelFontSize": 10.5, "labelBaseline": "bottom", "labelFlush": false, "labelOverlap": false, "title": null}}}},
{"data": {"values": [{"level": "floor"}]}, "mark": {"type": "rule", "color": "#2ee62e", "strokeWidth": 1.5},
 "encoding": {"y": {"datum": -950, "type": "quantitative", "scale": {"domain": [-13370, 54730], "nice": false, "zero": false}}}},
{"data": {"name": "powCursorR"}, "mark": {"type": "rule", "color": "#f03030", "strokeWidth": 1.2},
 "encoding": {"x": {"field": "f", "type": "quantitative", "scale": {"domain": [10.348, 11.253], "nice": false, "zero": false}}}},
{"data": {"name": "powCursorR"}, "mark": {"type": "text", "align": "left", "baseline": "middle", "dx": 1, "font": "DejaVu Sans", "fontWeight": "bold", "fontSize": 11, "color": "#f03030"},
 "encoding": {"x": {"field": "f", "type": "quantitative", "scale": {"domain": [10.348, 11.253], "nice": false, "zero": false}},
 "y": {"datum": 50430, "type": "quantitative", "scale": {"domain": [-13370, 54730], "nice": false, "zero": false}}, "text": {"value": "A"}}},
{"data": {"name": "powCursorR"}, "mark": {"type": "text", "align": "left", "baseline": "middle", "dx": 1, "font": "DejaVu Sans", "fontWeight": "bold", "fontSize": 11, "color": "#26268e"},
 "encoding": {"x": {"field": "f", "type": "quantitative", "scale": {"domain": [10.348, 11.253], "nice": false, "zero": false}},
 "y": {"datum": 45410, "type": "quantitative", "scale": {"domain": [-13370, 54730], "nice": false, "zero": false}}, "text": {"value": "B"}}},
{"data": {"name": "fitR"}, "mark": {"type": "text", "align": "center", "baseline": "top", "lineBreak": "\n", "lineHeight": 18.7, "font": "Liberation Sans", "fontSize": 11, "color": "#2b2b8f"},
 "encoding": {"x": {"datum": 10.5247, "type": "quantitative", "scale": {"domain": [10.348, 11.253], "nice": false, "zero": false}},
 "y": {"datum": 44150, "type": "quantitative", "scale": {"domain": [-13370, 54730], "nice": false, "zero": false}}, "text": {"field": "txt"}}},
{"data": {"values": [{"note": "secondary peaks"}]}, "mark": {"type": "point", "shape": "M 1 0 C 1 0.135 0.552 0.244 0 0.244 C -0.552 0.244 -1 0.135 -1 0 C -1 -0.135 -0.552 -0.244 0 -0.244 C 0.552 -0.244 1 -0.135 1 0 Z", "size": 45369, "filled": false, "color": "#4a6fc0", "strokeWidth": 1.5, "opacity": 1},
 "encoding": {"x": {"datum": 10.8264, "type": "quantitative", "scale": {"domain": [10.348, 11.253], "nice": false, "zero": false}},
 "y": {"datum": 5630, "type": "quantitative", "scale": {"domain": [-13370, 54730], "nice": false, "zero": false}}}}
]
}
]
}
]
}
